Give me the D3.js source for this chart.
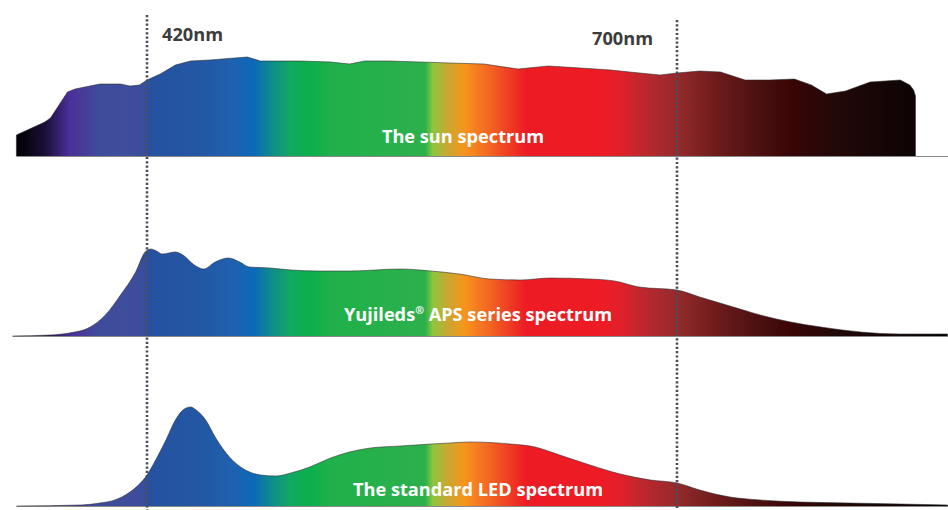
<!DOCTYPE html>
<html>
<head>
<meta charset="utf-8">
<script src="https://cdn.jsdelivr.net/npm/d3@7"></script>
<style>
  html, body { margin: 0; padding: 0; background: #fff; }
  svg { display: block; }
  text { font-family: "Open Sans", "Noto Sans", sans-serif; font-weight: 700; }
</style>
</head>
<body>
<svg id="chart" width="948" height="510"></svg>
<script>
// ---- data: wavelength (nm) and relative intensity ----
const sunWavelength = [351, 351, 366, 369, 378, 382, 395, 406, 411, 416, 420, 427, 435, 443, 453, 473, 480, 490, 501, 517, 527, 535, 548, 564, 580, 598, 616, 632, 649, 665, 675, 691, 700, 712, 723, 736, 749, 762, 771, 779, 789, 802, 818, 823, 825, 826, 826];
const sunIntensity  = [0, 21, 34, 38, 64, 67, 72, 72, 70, 71, 76, 82, 91, 95, 96, 99, 95, 95, 95, 94, 92, 95, 95, 94, 93, 92, 87, 90, 88, 86, 84, 81, 83, 85, 84, 76, 76, 77, 71, 62, 65, 74, 76, 71, 66, 60, 0];

const apsWavelength = [349, 369, 379, 390, 398, 406, 414, 419, 422, 425, 428, 435, 439, 445, 450, 456, 463, 469, 474, 485, 496, 511, 527, 554, 570, 585, 601, 617, 633, 654, 667, 680, 700, 712, 728, 744, 760, 776, 797, 818, 843];
const apsIntensity  = [0, 1, 3, 9, 21, 41, 64, 84, 87, 85, 82, 84, 81, 71, 67, 74, 78, 74, 69, 68, 66, 65, 65, 67, 65, 62, 57, 56, 58, 57, 55, 49, 46, 39, 30, 21, 14, 9, 4, 2, 2];

const ledWavelength = [351, 385, 395, 403, 411, 416, 420, 424, 430, 435, 439, 443, 446, 451, 456, 464, 472, 480, 488, 496, 506, 517, 527, 538, 554, 570, 580, 591, 612, 625, 638, 654, 670, 686, 700, 712, 728, 744, 765, 791, 818, 843];
const ledIntensity  = [0, 1, 3, 6, 14, 22, 31, 44, 66, 86, 96, 99, 96, 86, 69, 48, 36, 31, 30, 33, 39, 48, 54, 58, 60, 62, 63, 64, 62, 59, 51, 41, 32, 26, 23, 16, 9, 6, 4, 3, 2, 1];

const markerWavelengths = [420, 700];
const markerLabels = ["420nm", "700nm"];
const panelTitles = ["The sun spectrum", "Yujileds", "The standard LED spectrum"];

// colour stops of the visible spectrum along wavelength
const stopWavelength = [351, 366, 379, 385, 395, 416, 422, 448, 464, 477, 485, 496, 506, 517, 567, 571, 578.5, 588, 601, 620, 659, 670, 680, 700, 723, 744, 760, 781, 807, 826, 843];
const stopColor = ["#000000", "#1a0f35", "#4b2e9a", "#483a98", "#3f4c9c", "#3d4d9c", "#2552a0", "#2257a4", "#2060ae", "#0b6ab8", "#0e8a8e", "#12a860", "#0bb04b", "#20b04b", "#2cb04c", "#8dc63f", "#c8a832", "#f7941d", "#f26522", "#ed1c24", "#ed1c24", "#e3202a", "#c1272d", "#952a2d", "#6a1a1a", "#4a1010", "#3a0505", "#240808", "#160606", "#0d0404", "#000000"];

// ---- layout ----
const svg = d3.select("#chart");
const x = d3.scaleLinear().domain([420, 700]).range([147, 677]);
const y = d3.scaleLinear().domain([0, 100]).range([0, -100]);

// gradient in user space, following wavelength
const defs = svg.append("defs");
const gx0 = x(stopWavelength[0]), gx1 = x(stopWavelength[stopWavelength.length - 1]);
const grad = defs.append("linearGradient")
  .attr("id", "spectrum")
  .attr("gradientUnits", "userSpaceOnUse")
  .attr("x1", gx0).attr("y1", 0)
  .attr("x2", gx1).attr("y2", 0);
grad.selectAll("stop").data(stopWavelength).join("stop")
  .attr("offset", d => (x(d) - gx0) / (gx1 - gx0))
  .attr("stop-color", (d, i) => stopColor[i]);

const panels = [
  { wl: sunWavelength, val: sunIntensity, base: 156, curve: d3.curveLinear, title: panelTitles[0], tx: 463, ty: 143, lineStart: 351 },
  { wl: apsWavelength, val: apsIntensity, base: 336, curve: d3.curveMonotoneX, title: panelTitles[1], tx: 478, ty: 321, lineStart: 349, reg: true },
  { wl: ledWavelength, val: ledIntensity, base: 506, curve: d3.curveMonotoneX, title: panelTitles[2], tx: 478, ty: 496, lineStart: 351 }
];

panels.forEach(p => {
  const g = svg.append("g").attr("transform", `translate(0,${p.base})`);
  const pts = p.wl.map((w, i) => [w, p.val[i]]);
  const area = d3.area().curve(p.curve)
    .x(d => x(d[0])).y0(y(0)).y1(d => y(d[1]));
  const line = d3.line().curve(p.curve)
    .x(d => x(d[0])).y(d => y(d[1]));
  // baseline
  g.append("line")
    .attr("x1", x(p.lineStart)).attr("x2", 948)
    .attr("y1", 0.5).attr("y2", 0.5)
    .attr("stroke", "#8a8a8a").attr("stroke-width", 1);
  g.append("path").datum(pts).attr("d", area).attr("fill", "url(#spectrum)");
  g.append("path").datum(pts).attr("d", line)
    .attr("fill", "none").attr("stroke", "#2a2a2a").attr("stroke-width", 1).attr("stroke-opacity", 0.55);
  const t = g.append("text")
    .attr("x", p.tx).attr("y", p.ty - p.base)
    .attr("text-anchor", "middle")
    .attr("fill", "#ffffff")
    .attr("font-size", 18.2)
    .text(p.title);
  if (p.reg) {
    t.append("tspan").attr("font-size", 10.5).attr("dy", -7).text("®");
    t.append("tspan").attr("dy", 7).text(" APS series spectrum");
  }
});

// dotted marker lines and labels
const markerTop = [15, 20];
svg.selectAll("line.marker").data(markerWavelengths).join("line")
  .attr("class", "marker")
  .attr("x1", d => x(d)).attr("x2", d => x(d))
  .attr("y1", (d, i) => markerTop[i]).attr("y2", 510)
  .attr("stroke", "#4a4e58").attr("stroke-width", 2.6)
  .attr("stroke-dasharray", "2.2,2.1");

svg.append("text").attr("x", x(markerWavelengths[0]) + 15).attr("y", 41)
  .attr("font-size", 18.2).attr("fill", "#3c3c3c").text(markerLabels[0]);
svg.append("text").attr("x", x(markerWavelengths[1]) - 24).attr("y", 45)
  .attr("text-anchor", "end")
  .attr("font-size", 18.2).attr("fill", "#3c3c3c").text(markerLabels[1]);
</script>
</body>
</html>
